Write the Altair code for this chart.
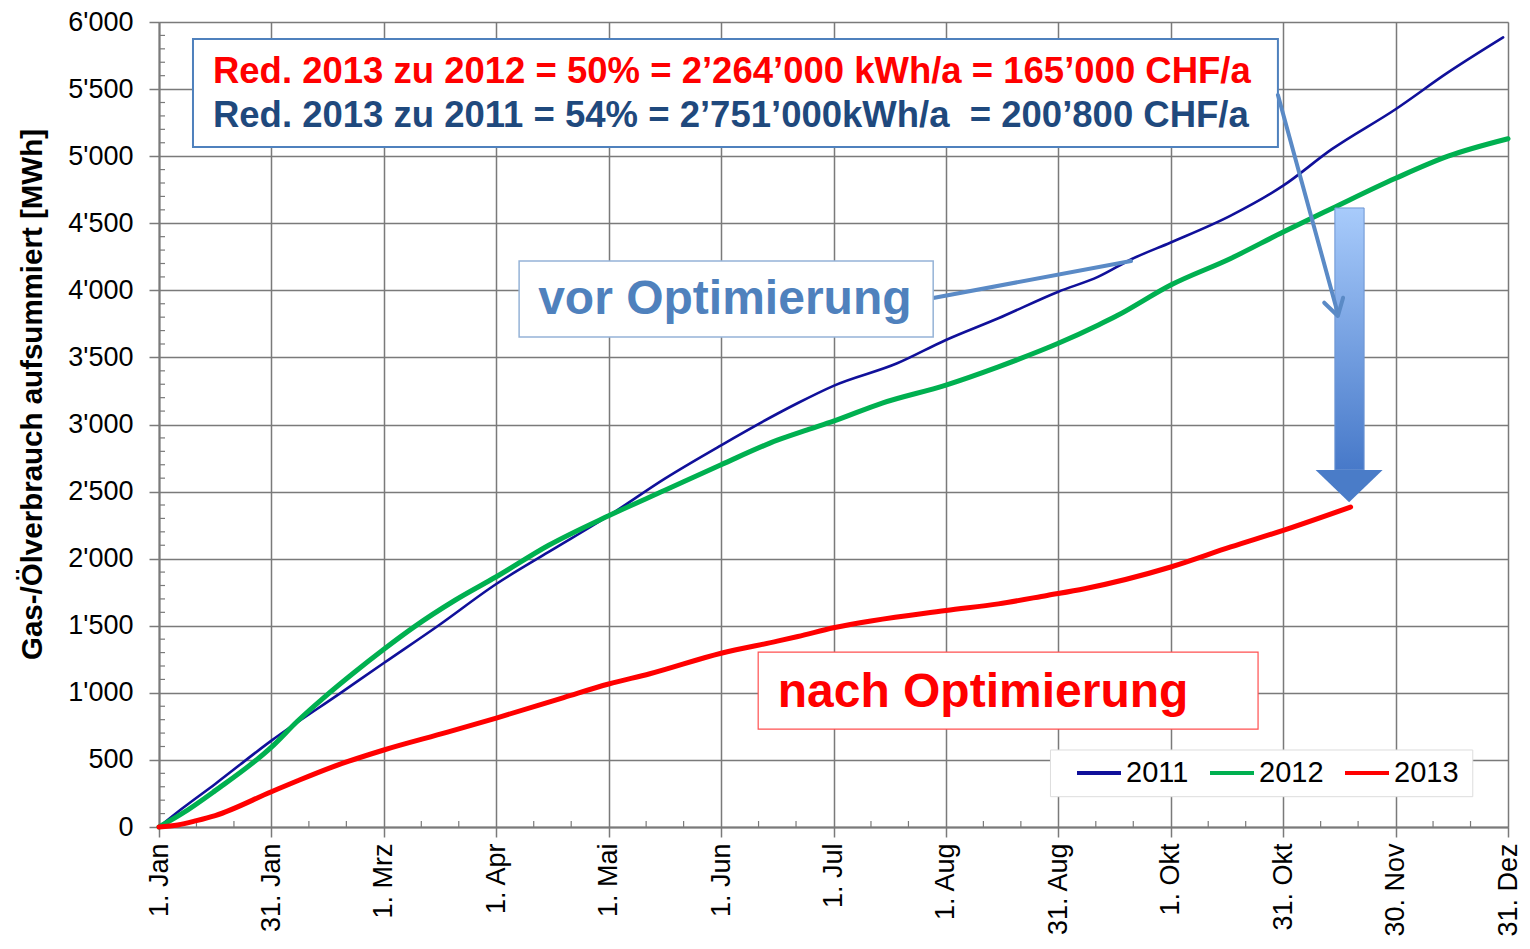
import altair as alt
import pandas as pd

# ---------------- data ----------------
series = ["2011", "2012", "2013"]
series_colors = ["#10109A", "#00B050", "#FF0000"]

days_2011 = [0, 6, 15, 30, 48.5, 60, 74.5, 90, 104, 120, 135, 150, 165, 170.5, 180, 197, 210, 224,
             240, 250.7, 259.5, 270, 286, 300, 313, 330, 344, 358.7]
mwh_2011 = [0, 134, 321, 644, 1000, 1222, 1500, 1811, 2050, 2320, 2597, 2845, 3080, 3160, 3288,
            3456, 3630, 3792, 3990, 4102, 4232, 4357, 4557, 4780, 5052, 5350, 5624, 5885]

days_2012 = [0, 6, 15, 30, 37, 44, 52, 60, 68, 79, 90, 104, 120, 135, 150, 165, 173, 180, 193, 210,
             224, 240, 250.7, 255.6, 270, 286, 300, 313, 330, 344, 360]
mwh_2012 = [0, 97, 271, 595, 790, 965, 1150, 1325, 1490, 1690, 1865, 2100, 2320, 2510, 2700, 2883,
            2960, 3025, 3160, 3294, 3430, 3605, 3742, 3810, 4040, 4238, 4435, 4610, 4835, 5000, 5130]

days_2013 = [0, 5, 10, 15, 30, 37, 46, 60, 77, 90, 108, 120, 131, 150, 165, 170.5, 180, 210, 224,
             237, 247, 270, 286, 300, 318]
mwh_2013 = [0, 15, 47, 85, 263, 345, 445, 574, 707, 812, 965, 1066, 1142, 1295, 1385, 1420, 1485,
            1614, 1663, 1726, 1776, 1938, 2087, 2211, 2385]

tick_days = [0, 30, 60, 90, 120, 150, 180, 210, 240, 270, 300, 330, 360]
tick_labels = ["1. Jan", "31. Jan", "1. Mrz", "1. Apr", "1. Mai", "1. Jun", "1. Jul", "1. Aug",
               "31. Aug", "1. Okt", "31. Okt", "30. Nov", "31. Dez"]
y_ticks = [0, 500, 1000, 1500, 2000, 2500, 3000, 3500, 4000, 4500, 5000, 5500, 6000]

text_red = "Red. 2013 zu 2012 = 50% = 2\u2019264\u2019000 kWh/a = 165\u2019000 CHF/a"
text_blue = "Red. 2013 zu 2011 = 54% = 2\u2019751\u2019000kWh/a \u00a0= 200\u2019800 CHF/a"
text_vor = "vor Optimierung"
text_nach = "nach Optimierung"
y_title = "Gas-/Ölverbrauch aufsummiert [MWh]"

rows = []
for name, d, v in [("2011", days_2011, mwh_2011), ("2012", days_2012, mwh_2012),
                   ("2013", days_2013, mwh_2013)]:
    for a, b in zip(d, v):
        rows.append({"Jahr": name, "Tag": a, "MWh": b})
df = pd.DataFrame(rows)

FONT = "Liberation Sans"
GRID = "#7a7a7a"

x_scale = alt.Scale(domain=[0, 360], nice=False, zero=False)
y_scale = alt.Scale(domain=[0, 6000], nice=False)

label_expr = "[" + ",".join("'" + t + "'" for t in tick_labels) + "][round(datum.value/30)]"

x_axis = alt.Axis(values=tick_days, labelExpr=label_expr, labelAngle=270, labelFontSize=27,
                  labelFont=FONT, labelColor="black", labelPadding=6, tickSize=10,
                  tickColor=GRID, tickWidth=1.5, domainColor=GRID, domainWidth=2,
                  grid=True, gridColor=GRID, gridWidth=1.5, gridOpacity=1, title=None)
y_axis = alt.Axis(values=y_ticks,
                  labelExpr="replace(format(datum.value, ','), ',', \"'\")",
                  labelFontSize=27, labelFont=FONT, labelColor="black", labelPadding=16,
                  tickSize=10, tickColor=GRID, tickWidth=1.5, domainColor=GRID, domainWidth=2,
                  grid=True, gridColor=GRID, gridWidth=1.5, gridOpacity=1,
                  title=y_title, titleFontSize=29.5, titleFont=FONT, titleFontWeight="bold",
                  titleColor="black", titleAngle=270, titleX=-127, titleY=372,
                  titleAlign="center", titleBaseline="middle")

def X(field):
    return alt.X(field, scale=x_scale, axis=x_axis)

def Y(field):
    return alt.Y(field, scale=y_scale, axis=y_axis)

lines = alt.Chart(df).mark_line(strokeJoin="round", strokeCap="round", interpolate="monotone").encode(
    x=X("Tag:Q"),
    y=Y("MWh:Q"),
    color=alt.Color("Jahr:N", scale=alt.Scale(domain=series, range=series_colors),
                    legend=alt.Legend(orient="none", legendX=916, legendY=727,
                                      direction="horizontal", title=None,
                                      symbolType="stroke", symbolStrokeWidth=4,
                                      symbolSize=1936, labelFontSize=29, labelFont=FONT,
                                      labelColor="black", padding=0, columnPadding=13,
                                      labelOffset=3)),
    strokeWidth=alt.condition(alt.datum.Jahr == "2011", alt.value(2.6), alt.value(5)),
    order="Tag:Q",
)

# minor ticks
y_minor = pd.DataFrame({"v": [v for v in range(100, 6000, 100) if v % 500 != 0]})
x_minor = pd.DataFrame({"d": [d for d in range(10, 360, 10) if d % 30 != 0]})
minor_y = alt.Chart(y_minor).mark_rule(color=GRID, strokeWidth=1.2).encode(
    y=Y("v:Q"), x=alt.value(0), x2=alt.value(6))
minor_x = alt.Chart(x_minor).mark_rule(color=GRID, strokeWidth=1.2).encode(
    x=X("d:Q"), y=alt.value(805), y2=alt.value(799))

# ---------------- annotations (data coordinates) ----------------
def box(x1, x2, y1, y2, stroke, sw, opacity=1):
    d = pd.DataFrame({"x1": [x1], "x2": [x2], "y1": [y1], "y2": [y2]})
    return alt.Chart(d).mark_rect(fill="white", stroke=stroke, strokeWidth=sw,
                                  strokeOpacity=opacity).encode(
        x=X("x1:Q"), x2="x2:Q", y=Y("y1:Q"), y2="y2:Q")

def label(txt, x, y, color, size, align):
    d = pd.DataFrame({"x": [x], "y": [y], "t": [txt]})
    return alt.Chart(d).mark_text(align=align, baseline="middle", fontSize=size,
                                  fontWeight="bold", font=FONT, color=color).encode(
        x=X("x:Q"), y=Y("y:Q"), text="t:N")

def seg(x1, y1, x2, y2, color, sw):
    d = pd.DataFrame({"x1": [x1], "y1": [y1], "x2": [x2], "y2": [y2]})
    return alt.Chart(d).mark_rule(color=color, strokeWidth=sw, strokeCap="round").encode(
        x=X("x1:Q"), x2="x2:Q", y=Y("y1:Q"), y2="y2:Q")

ARROW = "#5A8AC6"

legend_box = box(237.9, 350.6, 574, 226, "#dddddd", 1)

top_box = box(9.07, 298.6, 5873, 5068, "#4F81BD", 2)
top_t1 = label(text_red, 14.4, 5627, "#FF0000", 36.5, "left")
top_t2 = label(text_blue, 14.4, 5299, "#1F497D", 36.5, "left")

vor_box = box(96.1, 206.6, 4219, 3652, "#95B3D7", 1.5)
vor_t = label(text_vor, 151.0, 3925, "#4F81BD", 48, "center")
vor_lead = seg(206.6, 3943, 259.4, 4219, ARROW, 4)

nach_box = box(159.9, 293.3, 1304, 730, "#FF5050", 1.2)
nach_t = label(text_nach, 219.9, 1000, "#FF0000", 48, "center")

arrow_line = seg(298.6, 5456, 314.6, 3825, ARROW, 4)
arrow_head = alt.Chart(pd.DataFrame({"x": [314.6], "y": [3809]})).mark_point(
    shape="M-0.6,-1L0,0L0.6,-1", size=1063, filled=False, stroke=ARROW, strokeWidth=4,
    angle=345, opacity=1, strokeCap="round", strokeJoin="round").encode(
    x=X("x:Q"), y=Y("y:Q"))

block = alt.Chart(pd.DataFrame({"x1": [313.8], "x2": [321.6], "y1": [4614], "y2": [2661]})).mark_rect(
    fill=alt.LinearGradient(gradient="linear",
                            stops=[alt.GradientStop(color="#A8CBFB", offset=0),
                                   alt.GradientStop(color="#4779C9", offset=1)],
                            x1=0, x2=0, y1=0, y2=1),
    stroke="#6E96D2", strokeWidth=1).encode(
    x=X("x1:Q"), x2="x2:Q", y=Y("y1:Q"), y2="y2:Q")
block_head = alt.Chart(pd.DataFrame({"x": [317.6], "y": [2541]})).mark_point(
    shape="M-1,-0.48L1,-0.48L0,0.48Z", size=4489, filled=True, fill="#4A7CC8",
    strokeWidth=0, opacity=1).encode(
    x=X("x:Q"), y=Y("y:Q"))

chart = alt.layer(
    minor_y, minor_x, legend_box, lines,
    vor_lead, vor_box, vor_t,
    nach_box, nach_t,
    block, block_head,
    top_box, top_t1, top_t2,
    arrow_line, arrow_head,
).properties(
    width=1349, height=805,
    autosize=alt.AutoSizeParams(type="none"),
    padding={"left": 151, "top": 14, "right": 14, "bottom": 112},
    background="white",
).configure_view(stroke=GRID, strokeWidth=2).configure(font=FONT)

chart.save("out.html", embed_options={"renderer": "svg", "actions": False})
